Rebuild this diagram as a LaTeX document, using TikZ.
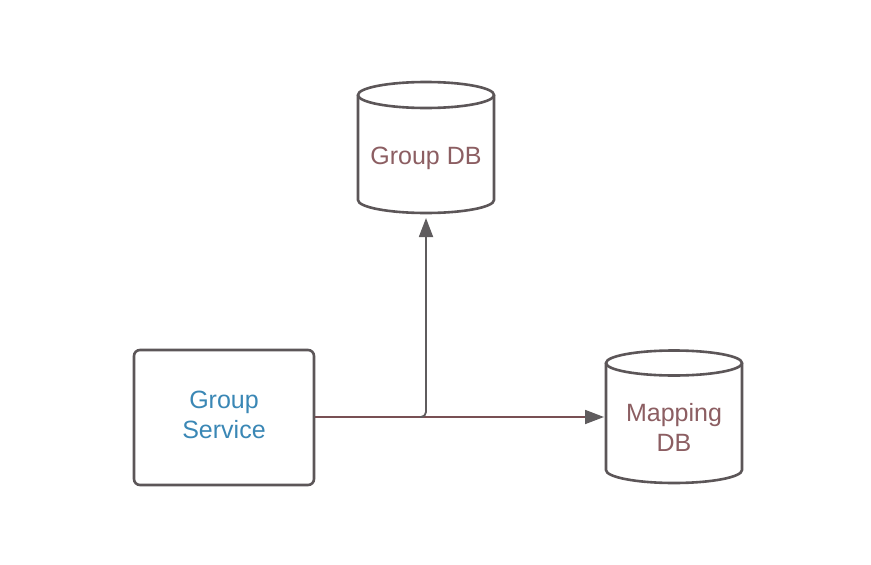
\documentclass[tikz,border=0pt]{standalone}
\usepackage{fontspec}
\setmainfont{Liberation Sans}
\usetikzlibrary{arrows.meta}
\definecolor{shapeline}{RGB}{92,86,88}
\definecolor{hline}{RGB}{120,80,84}
\definecolor{vline}{RGB}{95,92,94}
\definecolor{dbtext}{RGB}{140,94,98}
\definecolor{svctext}{RGB}{58,135,181}
\tikzset{
  shapestroke/.style={draw=shapeline, line width=2.6pt},
  dblabel/.style={text=dbtext, font=\fontsize{25}{30}\selectfont, align=center},
  svclabel/.style={text=svctext, font=\fontsize{25}{30}\selectfont, align=center},
  conn/.style={line width=1.8pt, -{Triangle[length=19pt,width=14pt,color=vline,fill=vline]}},
}
\begin{document}
\begin{tikzpicture}[x=1pt,y=-1pt]
\useasboundingbox (0,0) rectangle (871,565);
% Group DB cylinder
\draw[shapestroke, fill=white] (358,95) -- (358,200) arc[start angle=180,end angle=0,x radius=68,y radius=13] -- (494,95);
\draw[shapestroke, fill=white] (426,95) ellipse[x radius=68,y radius=13];
\node[dblabel] (gdb) at (426,158) {Group DB};
\coordinate (gdbbot) at (426,218);
% Mapping DB cylinder
\draw[shapestroke, fill=white] (606,363) -- (606,470) arc[start angle=180,end angle=0,x radius=68,y radius=13] -- (742,363);
\draw[shapestroke, fill=white] (674,363) ellipse[x radius=68,y radius=12.5];
\node[dblabel] (mdb) at (674,427) {Mapping\\DB};
\coordinate (mdbwest) at (604,417);
% Group Service
\node[shapestroke, rounded corners=6pt, minimum width=180pt, minimum height=135pt, inner sep=0pt] (gs) at (224,417.5) {};
\node[svclabel] (gslabel) at (224,415) {Group\\Service};
% connectors
\coordinate (junction) at (420,417);
\draw[line width=1.8pt, draw=hline] (gs.east |- junction) -- (junction);
\draw[conn, draw=hline] (junction) -- (mdbwest);
\draw[conn, draw=vline, rounded corners=5pt] (junction) -| (gdbbot);
\end{tikzpicture}
\end{document}
